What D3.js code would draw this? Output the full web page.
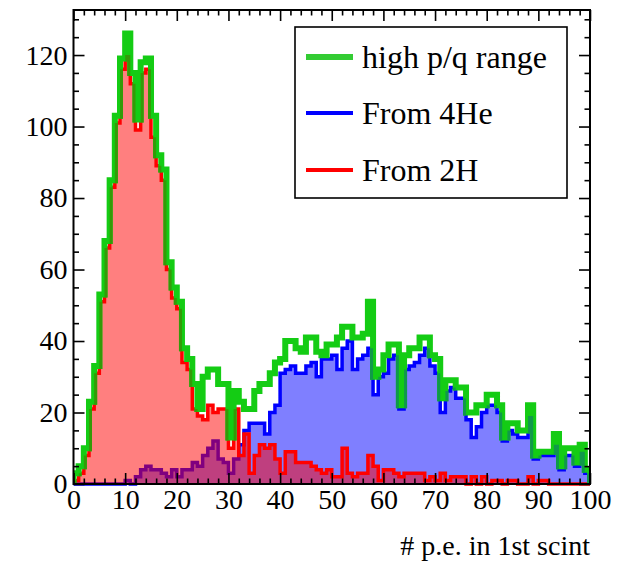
<!DOCTYPE html>
<html><head><meta charset="utf-8">
<script src="https://cdn.jsdelivr.net/npm/d3@7"></script>
<style>
body{margin:0;background:#fff}
svg{display:block}
text{font-family:"Liberation Serif","Times New Roman","DejaVu Serif",serif;fill:#000}
</style>
</head><body>
<svg id="c" width="643" height="561"></svg>
<script>
// ---- data (counts per bin, bins of width 1 from 0 to 100) ----
const highPQ = [3,5,10,23,33,53,68,85,103,119, 126,115,102,118,119,103,92,88,62,55,
  51,38,35,28,21,30,32,32,28,28, 13,26,23,21,21,26,28,28,31,34,
  35,40,40,38,37,41,41,37,36,39, 39,41,44,44,41,41,42,51,30,32,
  36,39,39,22,36,38,38,41,41,36, 35,24,29,29,27,27,20,20,22,22,
  25,25,22,13,17,17,15,15,22,8, 9,9,9,14,5,10,10,6,11,4];
const from4He = [0,0,0,0,0,0,0,0,0,0, 1,0,2,4,5,4,4,3,2,4,
  2,4,4,6,5,8,10,12,7,6, 3,7,11,15,17,17,17,14,20,22,
  31,32,33,31,31,33,34,30,35,35, 36,32,38,40,32,35,36,38,25,30,
  31,35,36,21,32,33,34,36,38,33, 31,20,26,27,24,24,18,13,16,20,
  22,22,20,12,15,14,13,13,19,7, 8,8,8,11,4,8,8,5,9,3];
const from2H = [1,3,8,21,31,51,66,83,101,116, 120,112,99,115,116,97,89,85,60,52,
  49,34,32,21,19,18,22,20,21,21, 10,21,8,14,3,8,11,10,11,7,
  3,9,9,6,6,6,5,4,3,4, 2,2,10,3,2,3,3,8,5,1,
  4,4,3,2,3,3,3,3,1,2, 1,3,1,2,2,2,0,2,0,2,
  0,1,1,0,1,1,0,0,2,0, 1,1,0,0,0,0,0,0,0,0];
const xTickLabels = [0,10,20,30,40,50,60,70,80,90,100];
const yTickLabels = [0,20,40,60,80,100,120];
const legendLabels = ["high p/q range","From 4He","From 2H"];
const xTitle = "# p.e. in 1st scint";

// ---- layout ----
const FONT = "'Liberation Serif','Times New Roman','DejaVu Serif',serif";
const L=73.5, R=590, T=10, B=484;
const svg = d3.select("#c");
const x = d3.scaleLinear().domain([0,100]).range([L,R]);
const y = d3.scaleLinear().domain([0,132.6]).range([B,T]);

function stepPoints(vals){
  const pts=[[0,0]];
  vals.forEach((v,i)=>{pts.push([i,v]);pts.push([i+1,v]);});
  pts.push([vals.length,0]);
  return pts;
}
const line = d3.line().x(d=>x(d[0])).y(d=>y(d[1]));
const area = d3.area().x(d=>x(d[0])).y0(y(0)).y1(d=>y(d[1]));

const defs = svg.append("defs");
defs.append("clipPath").attr("id","frameClip").append("rect")
  .attr("x",L).attr("y",T).attr("width",R-L).attr("height",B-T+3);
defs.append("clipPath").attr("id","redClip").append("path").attr("d",area(stepPoints(from2H)));
defs.append("clipPath").attr("id","blueClip").append("path").attr("d",area(stepPoints(from4He)));

const g = svg.append("g").attr("clip-path","url(#frameClip)");

// blue (4He)
g.append("path").attr("d",area(stepPoints(from4He))).attr("fill","rgba(0,0,255,0.5)");
g.append("path").attr("d",line(stepPoints(from4He))).attr("fill","none")
  .attr("stroke","#0000ff").attr("stroke-width",3.5);
// red (2H)
g.append("path").attr("d",area(stepPoints(from2H))).attr("fill","rgba(255,0,0,0.5)");
g.append("path").attr("d",line(stepPoints(from2H))).attr("fill","none")
  .attr("stroke","#ff0000").attr("stroke-width",3.5);
// green (high p/q)
const gd = line(stepPoints(highPQ));
g.append("path").attr("d",gd).attr("fill","none").attr("stroke","#14cc14").attr("stroke-width",6);
g.append("g").attr("clip-path","url(#blueClip)").append("path").attr("d",gd).attr("fill","none")
  .attr("stroke","#10994a").attr("stroke-width",6);
g.append("g").attr("clip-path","url(#redClip)").append("path").attr("d",gd).attr("fill","none")
  .attr("stroke","#349a08").attr("stroke-width",6);

// ---- axes ----
const xMinor = d3.range(0,101,2).filter(v=>v%10!==0);
const yMinor = d3.range(0,133,5).filter(v=>v%20!==0);
const fs = 28;
function styleAxis(sel){
  sel.select(".domain").remove();
  sel.selectAll("line").attr("stroke","#000").attr("stroke-width",1.6);
  sel.attr("font-family",FONT).attr("font-size",fs);
  sel.selectAll("text").style("font-size",fs+"px").style("font-family",FONT);
}
svg.append("g").attr("transform",`translate(0,${B})`)
  .call(d3.axisBottom(x).tickValues(xTickLabels).tickSize(-11).tickPadding(5).tickFormat(d3.format("d")))
  .call(styleAxis);
svg.append("g").attr("transform",`translate(0,${B})`)
  .call(d3.axisBottom(x).tickValues(xMinor).tickSize(-5.5).tickFormat("")).call(styleAxis);
svg.append("g").attr("transform",`translate(0,${T})`)
  .call(d3.axisTop(x).tickValues(xTickLabels).tickSize(-11).tickFormat("")).call(styleAxis);
svg.append("g").attr("transform",`translate(0,${T})`)
  .call(d3.axisTop(x).tickValues(xMinor).tickSize(-5.5).tickFormat("")).call(styleAxis);
svg.append("g").attr("transform",`translate(${L},0)`)
  .call(d3.axisLeft(y).tickValues(yTickLabels).tickSize(-11).tickPadding(6).tickFormat(d3.format("d")))
  .call(styleAxis);
svg.append("g").attr("transform",`translate(${L},0)`)
  .call(d3.axisLeft(y).tickValues(yMinor).tickSize(-5.5).tickFormat("")).call(styleAxis);
svg.append("g").attr("transform",`translate(${R},0)`)
  .call(d3.axisRight(y).tickValues(yTickLabels).tickSize(-11).tickFormat("")).call(styleAxis);
svg.append("g").attr("transform",`translate(${R},0)`)
  .call(d3.axisRight(y).tickValues(yMinor).tickSize(-5.5).tickFormat("")).call(styleAxis);

svg.append("rect").attr("x",L).attr("y",T).attr("width",R-L).attr("height",B-T)
  .attr("fill","none").attr("stroke","#000").attr("stroke-width",2);

svg.append("text").attr("x",R).attr("y",555).attr("text-anchor","end")
  .style("font-family",FONT).style("font-size","28px").text(xTitle);

// ---- legend ----
const lg = svg.append("g");
lg.append("rect").attr("x",295).attr("y",27).attr("width",272).attr("height",171)
  .attr("fill","#fff").attr("stroke","#000").attr("stroke-width",1.6);
const legColors = ["#33cc33","#0000ff","#ff0000"];
const legWidths = [6,4,4];
const rowY = [57,113,170];
legendLabels.forEach((t,i)=>{
  lg.append("line").attr("x1",306).attr("x2",353).attr("y1",rowY[i]).attr("y2",rowY[i])
    .attr("stroke",legColors[i]).attr("stroke-width",legWidths[i]);
  lg.append("text").attr("x",362).attr("y",rowY[i]+11)
    .style("font-family",FONT).style("font-size","32px").text(t);
});
</script>
</body></html>
